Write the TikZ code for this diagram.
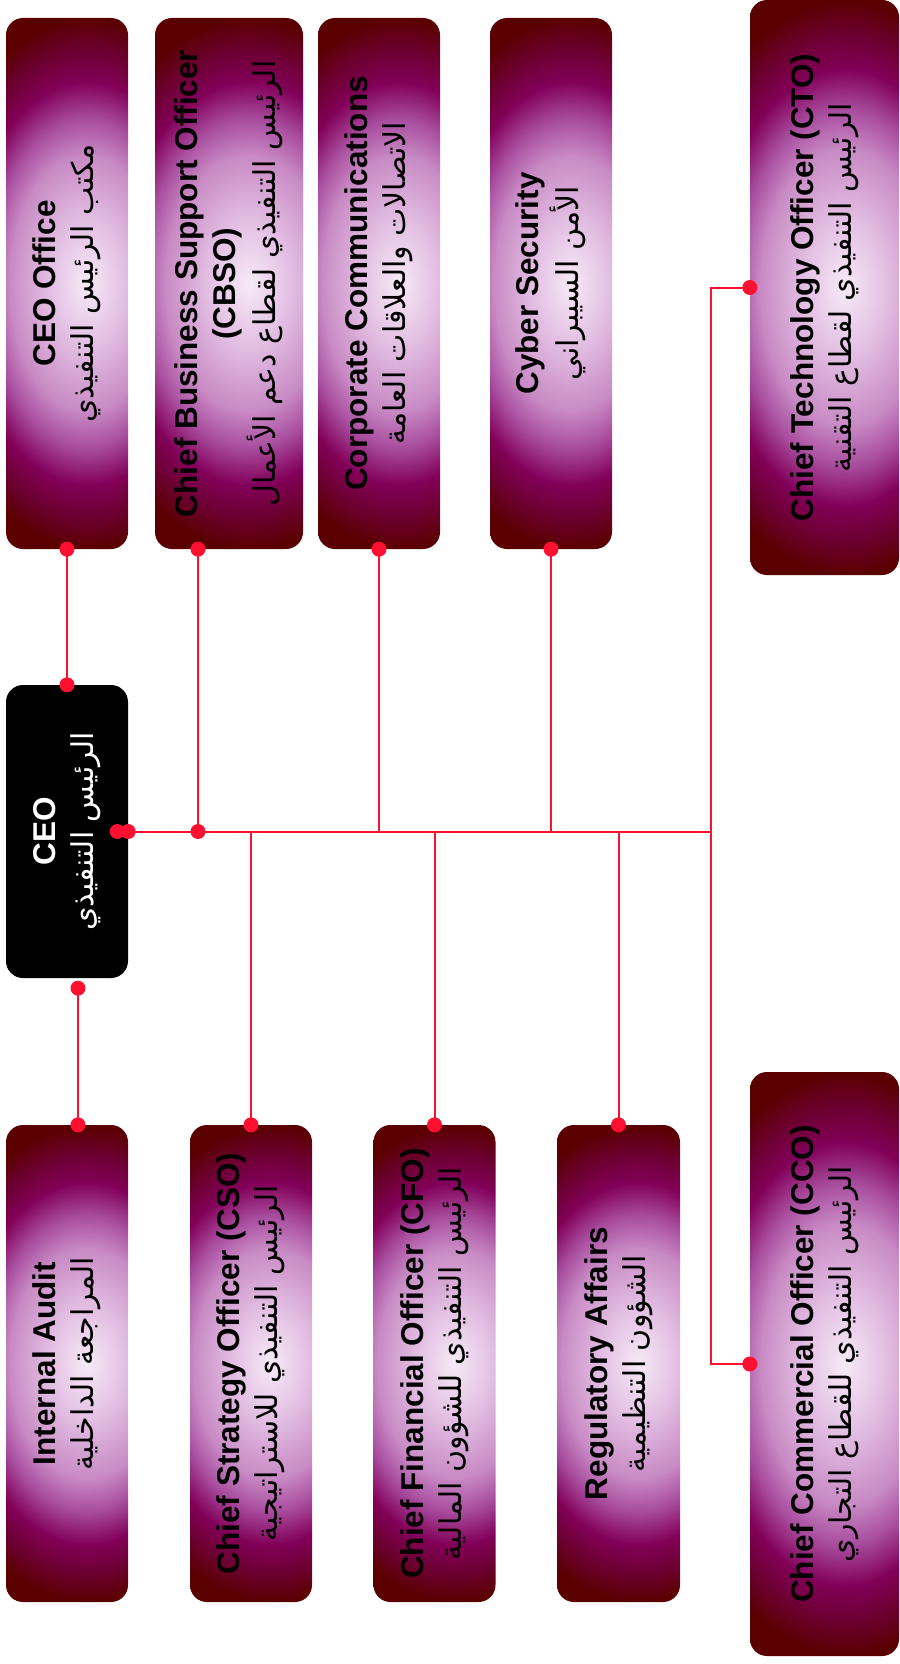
\documentclass[tikz,border=0pt]{standalone}
\usepackage{fontspec}
\setmainfont{Liberation Sans}
\newfontfamily\arabicfont[Script=Arabic]{DejaVu Sans}
\TeXXeTstate=1

\definecolor{unitdark}{HTML}{5A0000}
\definecolor{unitwine}{HTML}{6C0030}
\definecolor{unitplum}{HTML}{820058}
\definecolor{unitmauve}{HTML}{A84C9E}
\definecolor{unitpink}{HTML}{C88AC4}
\definecolor{unitblush}{HTML}{E2BEE2}
\definecolor{unitlight}{HTML}{F6EAF6}
\definecolor{linkred}{HTML}{FF1030}

\pgfdeclareradialshading{boxglow}{\pgfpoint{0bp}{0bp}}{%
  color(0bp)=(unitlight); color(6bp)=(unitblush); color(12bp)=(unitpink);
  color(15.5bp)=(unitmauve); color(19bp)=(unitplum); color(22bp)=(unitwine);
  color(25bp)=(unitdark); color(50bp)=(unitdark)}

% english line(s) over an arabic line, turned to read upwards
\newcommand{\unittext}[2]{\rotatebox{90}{\begin{tabular}{@{}c@{}}#1\\{\arabicfont\mdseries\fontsize{30}{38}\selectfont #2}\end{tabular}}}

\tikzset{
  unit/.style={rounded corners=17pt, inner sep=0pt,
    font=\fontsize{31.5}{38}\selectfont\bfseries,
    path picture={\shade[shading=boxglow]
      ([xshift=-80pt]path picture bounding box.south west) rectangle
      ([xshift=120pt]path picture bounding box.north east);}},
  ceobox/.style={rounded corners=17pt, inner sep=0pt, fill=black, text=white,
    font=\fontsize{31.5}{38}\selectfont\bfseries},
  link/.style={draw=linkred, line width=2pt}
}

\begin{document}
\begin{tikzpicture}[x=1pt, y=-1pt]
  \useasboundingbox (0,0) rectangle (899,1664);

  % units above the CEO
  \node[unit, minimum width=122pt, minimum height=531pt] (ceooffice) at (67,283.5)
    {\unittext{CEO Office}{\beginR مكتب الرئيس التنفيذي\endR}};
  \node[unit, minimum width=148pt, minimum height=531pt] (cbso) at (229,283.5)
    {\unittext{Chief Business Support Officer\\(CBSO)}{\beginR الرئيس التنفيذي لقطاع دعم الأعمال\endR}};
  \node[unit, minimum width=122pt, minimum height=531pt] (comms) at (379,283.5)
    {\unittext{Corporate Communications}{\beginR الاتصالات والعلاقات العامة\endR}};
  \node[unit, minimum width=122pt, minimum height=531pt] (cyber) at (551,283.5)
    {\unittext{Cyber Security}{\beginR الأمن السيبراني\endR}};
  \node[unit, minimum width=149pt, minimum height=575pt] (cto) at (824.5,287.5)
    {\unittext{Chief Technology Officer (CTO)}{\beginR الرئيس التنفيذي لقطاع التقنية\endR}};

  \node[ceobox, minimum width=122pt, minimum height=293pt] (ceo) at (67,831.5)
    {\unittext{CEO}{\beginR الرئيس التنفيذي\endR}};

  % units below the CEO
  \node[unit, minimum width=122pt, minimum height=477pt] (audit) at (67,1363.5)
    {\unittext{Internal Audit}{\beginR المراجعة الداخلية\endR}};
  \node[unit, minimum width=122pt, minimum height=477pt] (cso) at (251,1363.5)
    {\unittext{Chief Strategy Officer (CSO)}{\beginR الرئيس التنفيذي للاستراتيجية\endR}};
  \node[unit, minimum width=122pt, minimum height=477pt] (cfo) at (434.5,1363.5)
    {\unittext{Chief Financial Officer (CFO)}{\beginR الرئيس التنفيذي للشؤون المالية\endR}};
  \node[unit, minimum width=123pt, minimum height=477pt] (reg) at (618.5,1363.5)
    {\unittext{Regulatory Affairs}{\beginR الشؤون التنظيمية\endR}};
  \node[unit, minimum width=149pt, minimum height=584pt] (cco) at (824.5,1364)
    {\unittext{Chief Commercial Officer (CCO)}{\beginR الرئيس التنفيذي للقطاع التجاري\endR}};

  \coordinate (trunk) at (711,831.5);
  \coordinate (cbsofoot) at ([xshift=-31pt]cbso.south);
  \coordinate (audittap) at ([shift={(11pt,-10pt)}]ceo.south);
  \coordinate (audithead) at ([xshift=11pt]audit.north);

  \draw[link] (ceooffice.south) -- (ceo.north);
  \draw[link] (audittap) -- (audithead);
  \draw[link] (ceo.east) -- (trunk);
  \draw[link] (cto.west) -| (trunk) |- (cco.west);
  \draw[link] (cbsofoot) -- (cbsofoot |- ceo.east);
  \foreach \u in {comms,cyber}
    \draw[link] (\u.south) -- (\u.south |- ceo.east);
  \foreach \u in {cso,cfo,reg}
    \draw[link] (\u.north) -- (\u.north |- ceo.east);

  % end dots
  \foreach \p in {ceooffice.south,ceo.north,ceo.east,audittap,audithead,cbsofoot,
      comms.south,cyber.south,cso.north,cfo.north,reg.north,cto.west,cco.west}
    \fill[linkred] (\p) circle (7.5pt);
  \fill[linkred] ([xshift=-11pt]ceo.east) circle (7.5pt);
  \fill[linkred] (cbsofoot |- ceo.east) circle (7.5pt);
\end{tikzpicture}
\end{document}
